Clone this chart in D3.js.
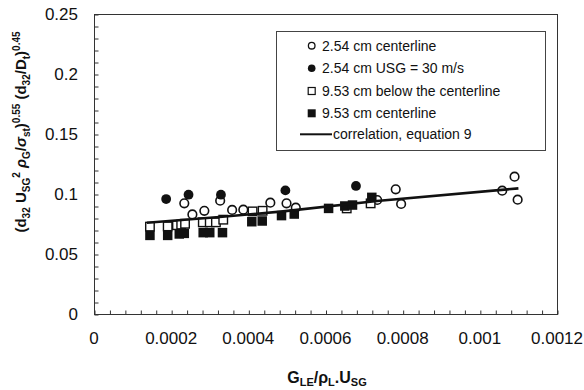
<!DOCTYPE html>
<html>
<head>
<meta charset="utf-8">
<script src="https://cdn.jsdelivr.net/npm/d3@7"></script>
<style>
  html, body { margin: 0; padding: 0; background: #fff; }
  svg { display: block; font-family: "Liberation Sans", Arial, sans-serif; }
</style>
</head>
<body>
<svg id="chart" width="584" height="390"></svg>
<script>
// ---- data (x = G_LE/(rho_L.U_SG), y = dimensionless group) ----
const xTicks = [0, 0.0002, 0.0004, 0.0006, 0.0008, 0.001, 0.0012];
const xTickLabels = ["0", "0.0002", "0.0004", "0.0006", "0.0008", "0.001", "0.0012"];
const yTicks = [0, 0.05, 0.1, 0.15, 0.2, 0.25];
const yTickLabels = ["0", "0.05", "0.1", "0.15", "0.2", "0.25"];

const seriesNames = ["2.54 cm centerline", "2.54 cm USG = 30 m/s", "9.53 cm below the centerline", "9.53 cm centerline", "correlation, equation 9"];

const openCircles = [
  [0.000234, 0.0922], [0.000255, 0.0830], [0.000286, 0.0860], [0.000327, 0.0944],
  [0.000358, 0.0867], [0.000387, 0.0869], [0.000457, 0.0928], [0.000499, 0.0922],
  [0.000523, 0.0886], [0.000734, 0.0950], [0.000782, 0.1039], [0.000796, 0.0917],
  [0.001058, 0.1028], [0.001090, 0.1144], [0.001098, 0.0953]
];
const filledCircles = [
  [0.000187, 0.0958], [0.000245, 0.0994], [0.000329, 0.0994], [0.000496, 0.1030], [0.000679, 0.1067]
];
const openSquares = [
  [0.000145, 0.0728], [0.000191, 0.0730], [0.000215, 0.0740], [0.000226, 0.0745],
  [0.000236, 0.0752], [0.000282, 0.0764], [0.000300, 0.0764], [0.000316, 0.0764],
  [0.000335, 0.0786], [0.000411, 0.0855], [0.000437, 0.0860], [0.000655, 0.0880],
  [0.000717, 0.0922]
];
const filledSquares = [
  [0.000145, 0.0655], [0.000191, 0.0655], [0.000221, 0.0667], [0.000234, 0.0672],
  [0.000283, 0.0678], [0.000300, 0.0678], [0.000333, 0.0678], [0.000409, 0.0769],
  [0.000436, 0.0775], [0.000486, 0.0820], [0.000519, 0.0833], [0.000608, 0.0880],
  [0.000650, 0.0900], [0.000670, 0.0908], [0.000720, 0.0972]
];
const correlation = [
  [0.000137, 0.0761], [0.000333, 0.0810], [0.000490, 0.0855], [0.000733, 0.0942], [0.001100, 0.1047]
];

// ---- layout ----
const svg = d3.select("#chart");
const m = { left: 94, top: 14, width: 463, height: 300 };
const x = d3.scaleLinear().domain([0, 0.0012]).range([m.left, m.left + m.width]);
const y = d3.scaleLinear().domain([0, 0.25]).range([m.top + m.height, m.top]);
const ink = "#111";

// frame
svg.append("rect")
  .attr("x", m.left + 0.5).attr("y", m.top + 0.5)
  .attr("width", m.width).attr("height", m.height)
  .attr("fill", "none").attr("stroke", "#333").attr("stroke-width", 1);

// x axis: minor ticks every 0.00004, inward
const xMinor = d3.range(0, 31).map(i => i * 0.00004);
const xAxis = d3.axisBottom(x).tickValues(xMinor).tickSize(-4).tickFormat("");
const gx = svg.append("g").attr("transform", `translate(0.5,${m.top + m.height + 0.5})`).call(xAxis);
gx.select(".domain").remove();
gx.selectAll(".tick line").attr("stroke", "#333");
svg.append("g").selectAll("text").data(xTicks).join("text")
  .attr("x", (d) => x(d)).attr("y", 344)
  .attr("text-anchor", "middle").attr("font-size", 17).attr("fill", ink)
  .text((d, i) => xTickLabels[i]);

// y axis: minor ticks every 0.01, inward
const yMinor = d3.range(0, 26).map(i => i * 0.01);
const yAxis = d3.axisLeft(y).tickValues(yMinor).tickSize(-4).tickFormat("");
const gy = svg.append("g").attr("transform", `translate(${m.left + 0.5},0.5)`).call(yAxis);
gy.select(".domain").remove();
gy.selectAll(".tick line").attr("stroke", "#333");
svg.append("g").selectAll("text").data(yTicks).join("text")
  .attr("x", 78).attr("y", (d) => y(d)).attr("dy", "0.36em")
  .attr("text-anchor", "end").attr("font-size", 17).attr("fill", ink)
  .text((d, i) => yTickLabels[i]);

// rich text helper
function rich(textSel, parts, base, small, subShift, supShift) {
  let cur = 0;
  parts.forEach(p => {
    const target = p.k === "sub" ? subShift : p.k === "sup" ? -supShift : 0;
    const ts = textSel.append("tspan").text(p.t)
      .attr("font-size", p.k === "n" ? base : small)
      .attr("dy", target - cur);
    if (p.i) ts.attr("font-style", "italic");
    cur = target;
  });
}

// x title
const xt = svg.append("text").attr("x", 327).attr("y", 383)
  .attr("text-anchor", "middle").attr("font-weight", "bold").attr("fill", ink);
rich(xt, [
  { t: "G", k: "n" }, { t: "LE", k: "sub" }, { t: "/ρ", k: "n" }, { t: "L", k: "sub" },
  { t: ".U", k: "n" }, { t: "SG", k: "sub" }
], 16, 11, 2.5, 7);

// y title
const yt = svg.append("text").attr("transform", "translate(26,132) rotate(-90)")
  .attr("text-anchor", "middle").attr("font-weight", "bold").attr("fill", ink);
rich(yt, [
  { t: "(d", k: "n" }, { t: "32", k: "sub" }, { t: " U", k: "n" }, { t: "SG", k: "sub" },
  { t: "2", k: "sup" }, { t: " ρ", k: "n", i: true }, { t: "G", k: "sub" },
  { t: "/", k: "n" }, { t: "σ", k: "n", i: true }, { t: "st", k: "sub" },
  { t: ")", k: "n" }, { t: "0.55", k: "sup" }, { t: " (d", k: "n" }, { t: "32", k: "sub" },
  { t: "/D", k: "n" }, { t: "t", k: "sub" }, { t: ")", k: "n" }, { t: "0.45", k: "sup" }
], 15, 10, 4, 6.5);

// ---- marks ----
const plot = svg.append("g");
const r = 4.3, s = 8.5;
plot.selectAll(".oc").data(openCircles).join("circle").attr("class", "oc")
  .attr("cx", d => x(d[0])).attr("cy", d => y(d[1])).attr("r", r)
  .attr("fill", "#fff").attr("stroke", ink).attr("stroke-width", 1.6);
plot.selectAll(".fc").data(filledCircles).join("circle").attr("class", "fc")
  .attr("cx", d => x(d[0])).attr("cy", d => y(d[1])).attr("r", r + 0.6)
  .attr("fill", ink);
plot.selectAll(".os").data(openSquares).join("rect").attr("class", "os")
  .attr("x", d => x(d[0]) - s / 2).attr("y", d => y(d[1]) - s / 2)
  .attr("width", s).attr("height", s)
  .attr("fill", "#fff").attr("stroke", ink).attr("stroke-width", 1.4);
plot.selectAll(".fs").data(filledSquares).join("rect").attr("class", "fs")
  .attr("x", d => x(d[0]) - s / 2 - 0.5).attr("y", d => y(d[1]) - s / 2 - 0.5)
  .attr("width", s + 1).attr("height", s + 1)
  .attr("fill", ink);
plot.append("path").datum(correlation)
  .attr("d", d3.line().x(d => x(d[0])).y(d => y(d[1])))
  .attr("fill", "none").attr("stroke", ink).attr("stroke-width", 2.6);

// ---- legend ----
const lg = svg.append("g");
lg.append("rect").attr("x", 276.5).attr("y", 31.5).attr("width", 269).attr("height", 119)
  .attr("fill", "#fff").attr("stroke", "#444").attr("stroke-width", 1);
const rowY = [45.7, 68.3, 91, 113.3, 134.3];
const lx = 311.7;
lg.append("circle").attr("cx", lx).attr("cy", rowY[0]).attr("r", 3.3)
  .attr("fill", "#fff").attr("stroke", ink).attr("stroke-width", 1.3);
lg.append("circle").attr("cx", lx).attr("cy", rowY[1]).attr("r", 3.8).attr("fill", ink);
lg.append("rect").attr("x", lx - 3.5).attr("y", rowY[2] - 3.5).attr("width", 7).attr("height", 7)
  .attr("fill", "#fff").attr("stroke", ink).attr("stroke-width", 1.2);
lg.append("rect").attr("x", lx - 4).attr("y", rowY[3] - 4).attr("width", 8).attr("height", 8).attr("fill", ink);
lg.append("line").attr("x1", 300).attr("x2", 332).attr("y1", rowY[4]).attr("y2", rowY[4])
  .attr("stroke", ink).attr("stroke-width", 2);
lg.selectAll(".lt").data(seriesNames).join("text").attr("class", "lt")
  .attr("x", (d, i) => i === 4 ? 333 : 322).attr("y", (d, i) => rowY[i]).attr("dy", "0.36em")
  .attr("font-size", 14).attr("fill", ink).text(d => d);
</script>
</body>
</html>
